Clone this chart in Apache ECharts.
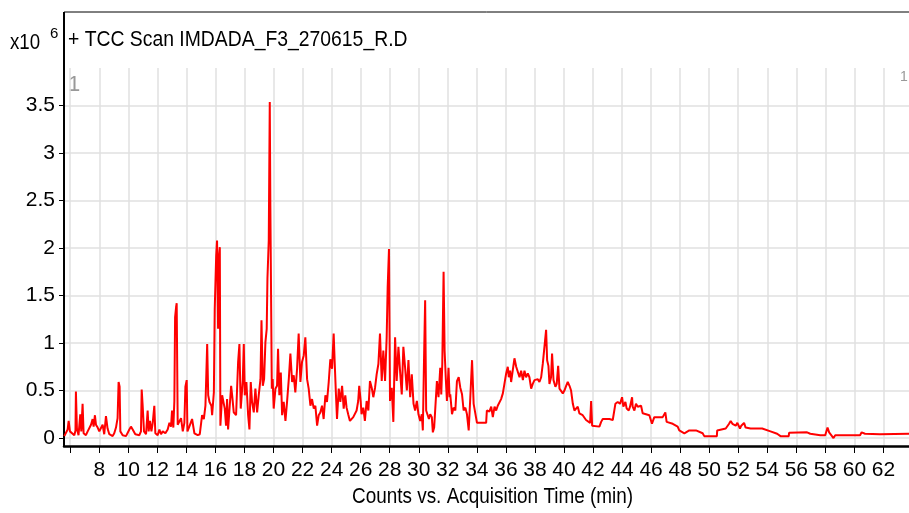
<!DOCTYPE html>
<html>
<head>
<meta charset="utf-8">
<script src="https://cdn.jsdelivr.net/npm/echarts@6/dist/echarts.min.js"></script>
<style>
  html, body { margin: 0; padding: 0; background: #fff; }
  #chart { width: 909px; height: 513px; }
</style>
</head>
<body>
<div id="chart"></div>
<script>
// retention time (min), counts (x10^6)
const segA = [[5.59,0.02],[5.7,0.04],[5.82,0.09],[5.89,0.18],[5.98,0.07],[6.11,0.05],[6.28,0.03],[6.36,0.08],[6.39,0.49],[6.46,0.1],[6.57,0.03],[6.69,0.25],[6.76,0.07],[6.85,0.36],[6.92,0.05],[7.08,0.03],[7.2,0.07],[7.31,0.05],[7.43,0.14],[7.54,0.2],[7.61,0.12],[7.7,0.24],[7.77,0.14],[7.89,0.11],[8.0,0.07],[8.11,0.05],[8.23,0.14],[8.34,0.04],[8.46,0.23],[8.57,0.1],[8.69,0.04],[8.92,0.02],[9.03,0.05],[9.15,0.11],[9.26,0.21],[9.33,0.59],[9.4,0.54],[9.45,0.07],[9.61,0.03],[9.84,0.02],[10.07,0.09],[10.18,0.12],[10.3,0.09],[10.48,0.04],[10.76,0.03],[10.87,0.07],[10.92,0.51],[10.98,0.36],[11.08,0.07],[11.22,0.04],[11.33,0.29],[11.4,0.07],[11.49,0.18],[11.59,0.07],[11.68,0.16],[11.79,0.34],[11.86,0.05],[12.02,0.03],[12.14,0.09],[12.25,0.04],[12.37,0.07],[12.55,0.05],[12.71,0.09],[12.83,0.16],[12.94,0.12],[13.01,0.29],[13.1,0.11],[13.17,0.39],[13.22,1.27],[13.29,1.38],[13.33,1.42],[13.4,0.14],[13.52,0.12],[13.63,0.21],[13.75,0.07],[13.86,0.16],[13.93,0.54],[14.02,0.61],[14.07,0.07],[14.2,0.12],[14.39,0.2],[14.55,0.05],[14.78,0.03],[14.92,0.04]];
const segB = [[15.08,0.24],[15.2,0.2],[15.31,0.34],[15.43,0.99],[15.5,0.45],[15.59,0.38],[15.72,0.34],[15.77,0.24],[15.89,0.48],[15.95,1.36],[16.05,1.92],[16.11,2.08],[16.18,1.15],[16.23,1.89],[16.3,2.01],[16.34,0.13],[16.46,0.45],[16.57,0.43],[16.64,0.31],[16.73,0.13],[16.8,0.41],[16.87,0.09],[16.96,0.08],[17.08,0.55],[17.15,0.45],[17.26,0.27],[17.42,0.24],[17.56,0.8],[17.65,0.99],[17.74,0.31],[17.88,0.6],[17.95,0.99],[18.02,0.45],[18.13,0.59],[18.25,0.24],[18.34,0.09],[18.43,0.59],[18.52,0.38],[18.64,0.27],[18.75,0.52],[18.87,0.27],[18.98,0.45],[19.1,0.62],[19.17,1.24],[19.26,0.55],[19.35,0.62],[19.44,1.01],[19.53,1.15],[19.58,1.68],[19.67,2.08],[19.74,3.54],[19.78,2.45],[19.83,1.5],[19.88,0.52],[19.94,0.62],[20.01,0.31],[20.13,0.52],[20.24,0.55],[20.31,0.94],[20.4,0.45],[20.5,0.69],[20.59,0.24],[20.7,0.38],[20.82,0.18],[20.93,0.38],[21.05,0.62],[21.16,0.89],[21.28,0.59],[21.39,0.66],[21.5,0.48],[21.62,0.73],[21.73,1.1],[21.85,0.59],[21.96,0.8],[22.08,0.87],[22.19,1.06],[22.31,0.62],[22.42,0.52],[22.54,0.34],[22.65,0.41],[22.77,0.31],[22.88,0.34],[23.0,0.13],[23.11,0.24],[23.22,0.27],[23.34,0.34],[23.45,0.2],[23.57,0.45],[23.68,0.38],[23.8,0.59],[23.91,0.83],[24.03,0.73],[24.14,1.1],[24.21,0.8],[24.3,0.45],[24.37,0.2],[24.49,0.52],[24.6,0.38],[24.72,0.55],[24.83,0.31],[24.94,0.45]];
const segC = [[25.03,0.32],[25.14,0.25],[25.26,0.18],[25.37,0.2],[25.49,0.22],[25.6,0.24],[25.72,0.29],[25.83,0.39],[25.9,0.55],[26.0,0.39],[26.06,0.25],[26.18,0.32],[26.29,0.18],[26.41,0.39],[26.53,0.29],[26.64,0.6],[26.76,0.53],[26.87,0.43],[26.99,0.53],[27.1,0.67],[27.22,0.78],[27.33,1.1],[27.45,0.6],[27.56,0.92],[27.68,0.6],[27.79,1.06],[27.86,1.59],[27.95,1.99],[28.02,0.39],[28.14,0.53],[28.25,0.17],[28.37,1.06],[28.48,0.6],[28.6,0.96],[28.71,0.71],[28.83,0.46],[28.94,0.96],[29.06,0.74],[29.18,0.5],[29.29,0.82],[29.41,0.43],[29.52,0.67],[29.64,0.36],[29.75,0.29],[29.87,0.39],[29.98,0.25],[30.1,0.18],[30.21,0.25],[30.28,0.08],[30.37,0.89],[30.44,1.45],[30.51,0.29],[30.6,0.29],[30.7,0.2],[30.79,0.25],[30.9,0.22],[30.97,0.06],[31.06,0.11],[31.25,0.6],[31.36,0.43],[31.48,0.74],[31.55,0.46],[31.62,0.78],[31.71,1.75],[31.78,0.92],[31.87,0.6],[31.94,0.39],[32.05,0.74],[32.12,0.43],[32.17,0.46],[32.29,0.25],[32.4,0.32],[32.52,0.29],[32.63,0.6],[32.75,0.64],[32.86,0.53],[32.98,0.46],[33.09,0.29],[33.21,0.32],[33.32,0.25],[33.44,0.08],[33.55,0.43],[33.67,0.82],[33.78,0.36],[33.9,0.36]];
const segD = [[34.01,0.16],[34.64,0.16],[34.69,0.29],[34.87,0.28],[34.99,0.33],[35.1,0.22],[35.22,0.33],[35.33,0.29],[35.44,0.34],[35.56,0.33],[35.67,0.41],[35.79,0.47],[35.9,0.57],[36.02,0.68],[36.13,0.75],[36.2,0.64],[36.29,0.71],[36.36,0.59],[36.48,0.57],[36.59,0.84],[36.71,0.75],[36.82,0.76],[36.94,0.64],[37.05,0.71],[37.17,0.61],[37.28,0.71],[37.39,0.64],[37.51,0.68],[37.62,0.64],[37.74,0.52],[37.85,0.57],[37.97,0.61],[38.08,0.59],[38.2,0.62],[38.31,0.59],[38.43,0.64],[38.54,0.78],[38.66,0.76],[38.77,1.14],[38.84,0.82],[38.93,0.76],[39.0,0.57],[39.11,0.64],[39.18,0.89],[39.28,0.61],[39.41,0.54],[39.5,0.57],[39.6,0.76],[39.69,0.52],[39.8,0.5],[39.92,0.47],[40.03,0.5],[40.15,0.55],[40.26,0.59],[40.38,0.55],[40.49,0.5],[40.61,0.36],[40.72,0.29],[40.83,0.29],[40.95,0.33],[41.06,0.26],[41.29,0.24],[41.41,0.22],[41.52,0.19],[41.64,0.17],[41.8,0.16],[41.87,0.39],[41.94,0.13],[42.44,0.12],[42.56,0.17],[42.67,0.2],[43.13,0.2],[43.36,0.19],[43.47,0.2],[43.54,0.36],[43.7,0.38],[43.86,0.36],[44.0,0.43],[44.09,0.33],[44.23,0.38],[44.32,0.31],[44.46,0.29],[44.55,0.33],[44.69,0.43],[44.73,0.33],[44.85,0.29],[44.96,0.36],[45.08,0.33],[45.31,0.34],[45.42,0.26],[45.88,0.24],[46.0,0.22],[46.06,0.15],[46.22,0.22],[46.8,0.22],[46.91,0.2],[46.98,0.27],[47.07,0.17],[47.49,0.15],[47.6,0.13],[47.83,0.12],[47.94,0.08],[48.29,0.05],[48.63,0.08],[49.09,0.08],[49.55,0.05],[49.66,0.02]];
const segE = [[50.53,0.02],[50.55,0.08],[51.14,0.1],[51.26,0.11],[51.37,0.15],[51.48,0.18],[51.6,0.15],[51.71,0.17],[51.83,0.13],[51.94,0.16],[52.05,0.17],[52.12,0.1],[52.21,0.13],[52.4,0.16],[52.51,0.11],[52.85,0.1],[53.65,0.1],[53.77,0.08],[54.22,0.07],[54.34,0.05],[54.68,0.045],[54.91,0.02],[55.48,0.02],[55.5,0.055],[56.74,0.06],[56.96,0.045],[57.65,0.03],[57.99,0.03],[58.15,0.11],[58.26,0.06],[58.38,0.045],[58.56,0.0],[58.68,0.03],[60.39,0.03],[60.5,0.06],[60.73,0.045],[61.76,0.04],[63.76,0.045]];

const xTicks = [6,8,10,12,14,16,18,20,22,24,26,28,30,32,34,36,38,40,42,44,46,48,50,52,54,56,58,60,62];
const xLabels = [8,10,12,14,16,18,20,22,24,26,28,30,32,34,36,38,40,42,44,46,48,50,52,54,56,58,60,62];
const yTicks = [0,0.5,1,1.5,2,2.5,3,3.5];

const trace = [].concat(segA, segB, segC, segD, segE);
const font = '"Liberation Sans", Arial, sans-serif';

const chart = echarts.init(document.getElementById('chart'));

const option = {
    animation: false,
    backgroundColor: '#fff',
    grid: { left: 64, right: 0, top: 68, bottom: 67, containLabel: false },
    xAxis: {
        type: 'value',
        min: 5.57,
        max: 63.76,
        axisLine: { onZero: false, lineStyle: { color: '#000', width: 2.5 } },
        axisTick: { show: true, length: 7, customValues: xTicks, lineStyle: { color: '#000', width: 1 } },
        axisLabel: { customValues: xLabels, color: '#000', fontSize: 21, margin: 14, fontFamily: font },
        splitLine: { show: true, lineStyle: { color: '#e0e0e0', width: 1.5 } }
    },
    yAxis: {
        type: 'value',
        min: -0.084,
        max: 3.897,
        axisLine: { show: true, lineStyle: { color: '#000', width: 2 } },
        axisTick: { show: true, length: 5, customValues: yTicks, lineStyle: { color: '#000', width: 1 } },
        axisLabel: { customValues: yTicks, color: '#000', fontSize: 21, margin: 9, fontFamily: font },
        splitLine: { show: true, lineStyle: { color: '#e0e0e0', width: 1.5 } }
    },
    series: [
        {
            type: 'line',
            data: trace,
            showSymbol: false,
            sampling: 'none',
            lineStyle: { color: '#ff0000', width: 2 },
            itemStyle: { color: '#ff0000' }
        }
    ],
    graphic: [
        // frame above the plot (title band)
        { type: 'line', shape: { x1: 64, y1: 12, x2: 909, y2: 12 }, style: { stroke: '#000', lineWidth: 1 } },
        { type: 'line', shape: { x1: 64, y1: 12, x2: 64, y2: 70 }, style: { stroke: '#000', lineWidth: 2 } },
        // narrow lettering like the instrument software
        { type: 'text', x: 68, y: 29, scaleX: 0.88, style: { text: '+ TCC Scan IMDADA_F3_270615_R.D', fill: '#000', font: '22px ' + font } },
        { type: 'text', x: 10, y: 32, scaleX: 0.85, style: { text: 'x10', fill: '#000', font: '22px ' + font } },
        { type: 'text', x: 50, y: 26, style: { text: '6', fill: '#000', font: '15px ' + font } },
        { type: 'text', x: 352, y: 486, scaleX: 0.86, style: { text: 'Counts vs. Acquisition Time (min)', fill: '#000', font: '22px ' + font } },
        { type: 'text', x: 68, y: 74, style: { text: '1', fill: '#999', font: '22px ' + font } },
        { type: 'text', x: 900, y: 70, style: { text: '1', fill: '#999', font: '14px ' + font } }
    ]
};

chart.setOption(option);

window.addEventListener('resize', () => {
    chart.resize();
});
</script>
</body>
</html>
